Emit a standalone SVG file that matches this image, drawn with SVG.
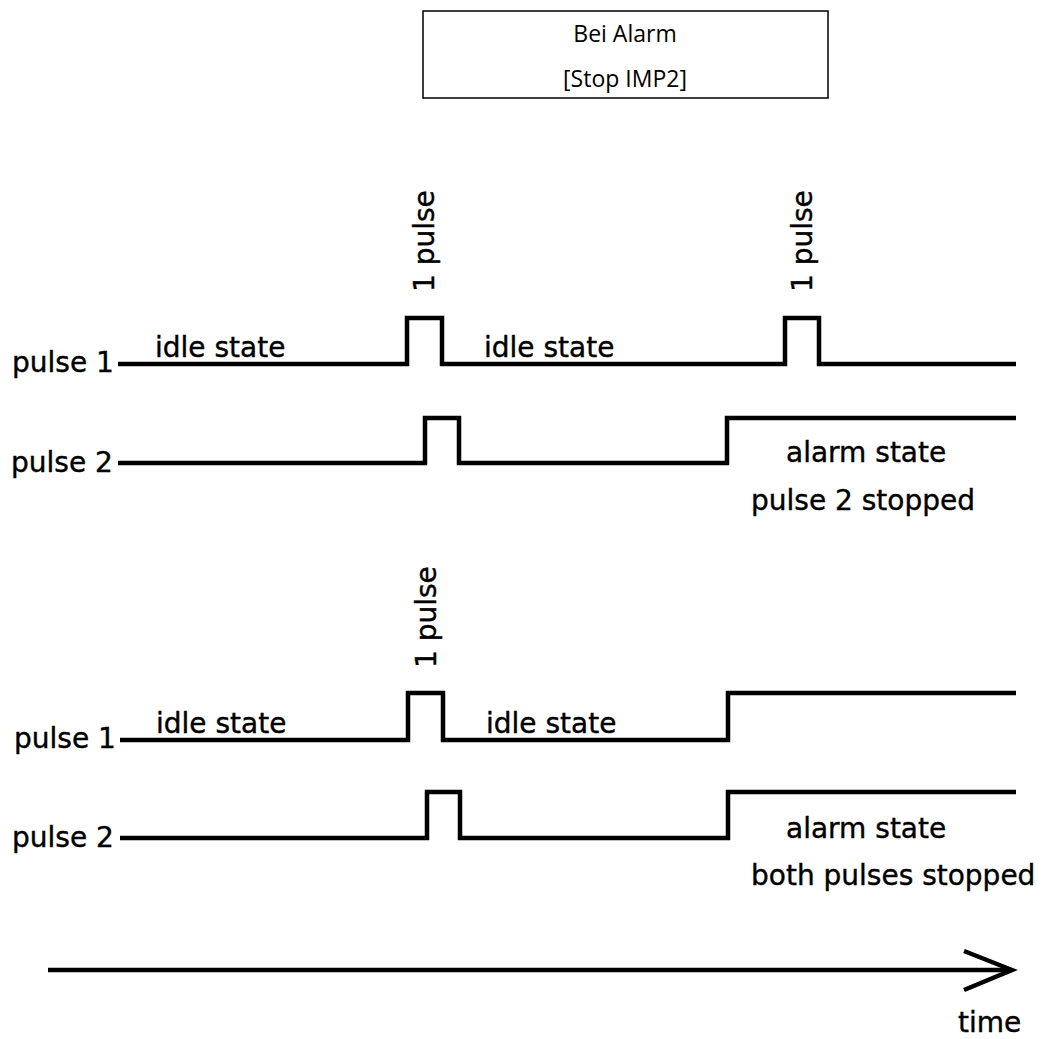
<svg xmlns="http://www.w3.org/2000/svg" width="1043" height="1039" viewBox="0 0 1043 1039">
  <style>
    .wave { fill: none; stroke: #000; stroke-width: 4.5; stroke-linejoin: miter; stroke-linecap: butt; }
    .lbl { font-family: "DejaVu Sans", Verdana, sans-serif; font-size: 28px; fill: #000; stroke: #000; stroke-width: 0.4; }
    .box { fill: #fff; stroke: #000; stroke-width: 1.5; }
    .boxtxt { font-family: "Open Sans", "Noto Sans", sans-serif; font-size: 23px; fill: #000; text-anchor: middle; }
  </style>
  <rect width="1043" height="1039" fill="#fff"/>

  <g id="alarm-box">
    <rect class="box" x="423" y="11" width="405" height="87"/>
    <text class="boxtxt" x="625" y="42">Bei Alarm</text>
    <text class="boxtxt" x="625" y="87">[Stop IMP2]</text>
  </g>

  <g id="diagram-1">
    <g id="d1-labels">
      <text class="lbl" x="12" y="372">pulse 1</text>
      <text class="lbl" x="11" y="472">pulse 2</text>
      <text class="lbl" x="155" y="357">idle state</text>
      <text class="lbl" x="484" y="357">idle state</text>
      <text class="lbl" transform="translate(434,292) rotate(-90)">1 pulse</text>
      <text class="lbl" transform="translate(812,292) rotate(-90)">1 pulse</text>
      <text class="lbl" x="786" y="462">alarm state</text>
      <text class="lbl" x="751" y="510">pulse 2 stopped</text>
    </g>
    <g id="d1-waves">
      <path id="d1-pulse1" class="wave" d="M118 364 H407 V318 H442 V364 H785 V318 H819 V364 H1016"/>
      <path id="d1-pulse2" class="wave" d="M118 463 H425 V418 H459 V463 H727 V418 H1016"/>
    </g>
  </g>

  <g id="diagram-2">
    <g id="d2-labels">
      <text class="lbl" x="14" y="748">pulse 1</text>
      <text class="lbl" x="12" y="847">pulse 2</text>
      <text class="lbl" x="156" y="733">idle state</text>
      <text class="lbl" x="486" y="733">idle state</text>
      <text class="lbl" transform="translate(436,668) rotate(-90)">1 pulse</text>
      <text class="lbl" x="786" y="838">alarm state</text>
      <text class="lbl" x="751" y="885">both pulses stopped</text>
    </g>
    <g id="d2-waves">
      <path id="d2-pulse1" class="wave" d="M120 740 H408 V693 H443 V740 H728 V693 H1016"/>
      <path id="d2-pulse2" class="wave" d="M120 838 H427 V792 H460 V838 H728 V792 H1016"/>
    </g>
  </g>

  <g id="connectors">
    <path id="time-axis" class="wave" d="M48 970 H1011"/>
    <path id="time-arrowhead" class="wave" d="M964 951 L1012 970 L964 990"/>
  </g>
  <g id="time-label">
    <text class="lbl" x="958" y="1032">time</text>
  </g>
</svg>
